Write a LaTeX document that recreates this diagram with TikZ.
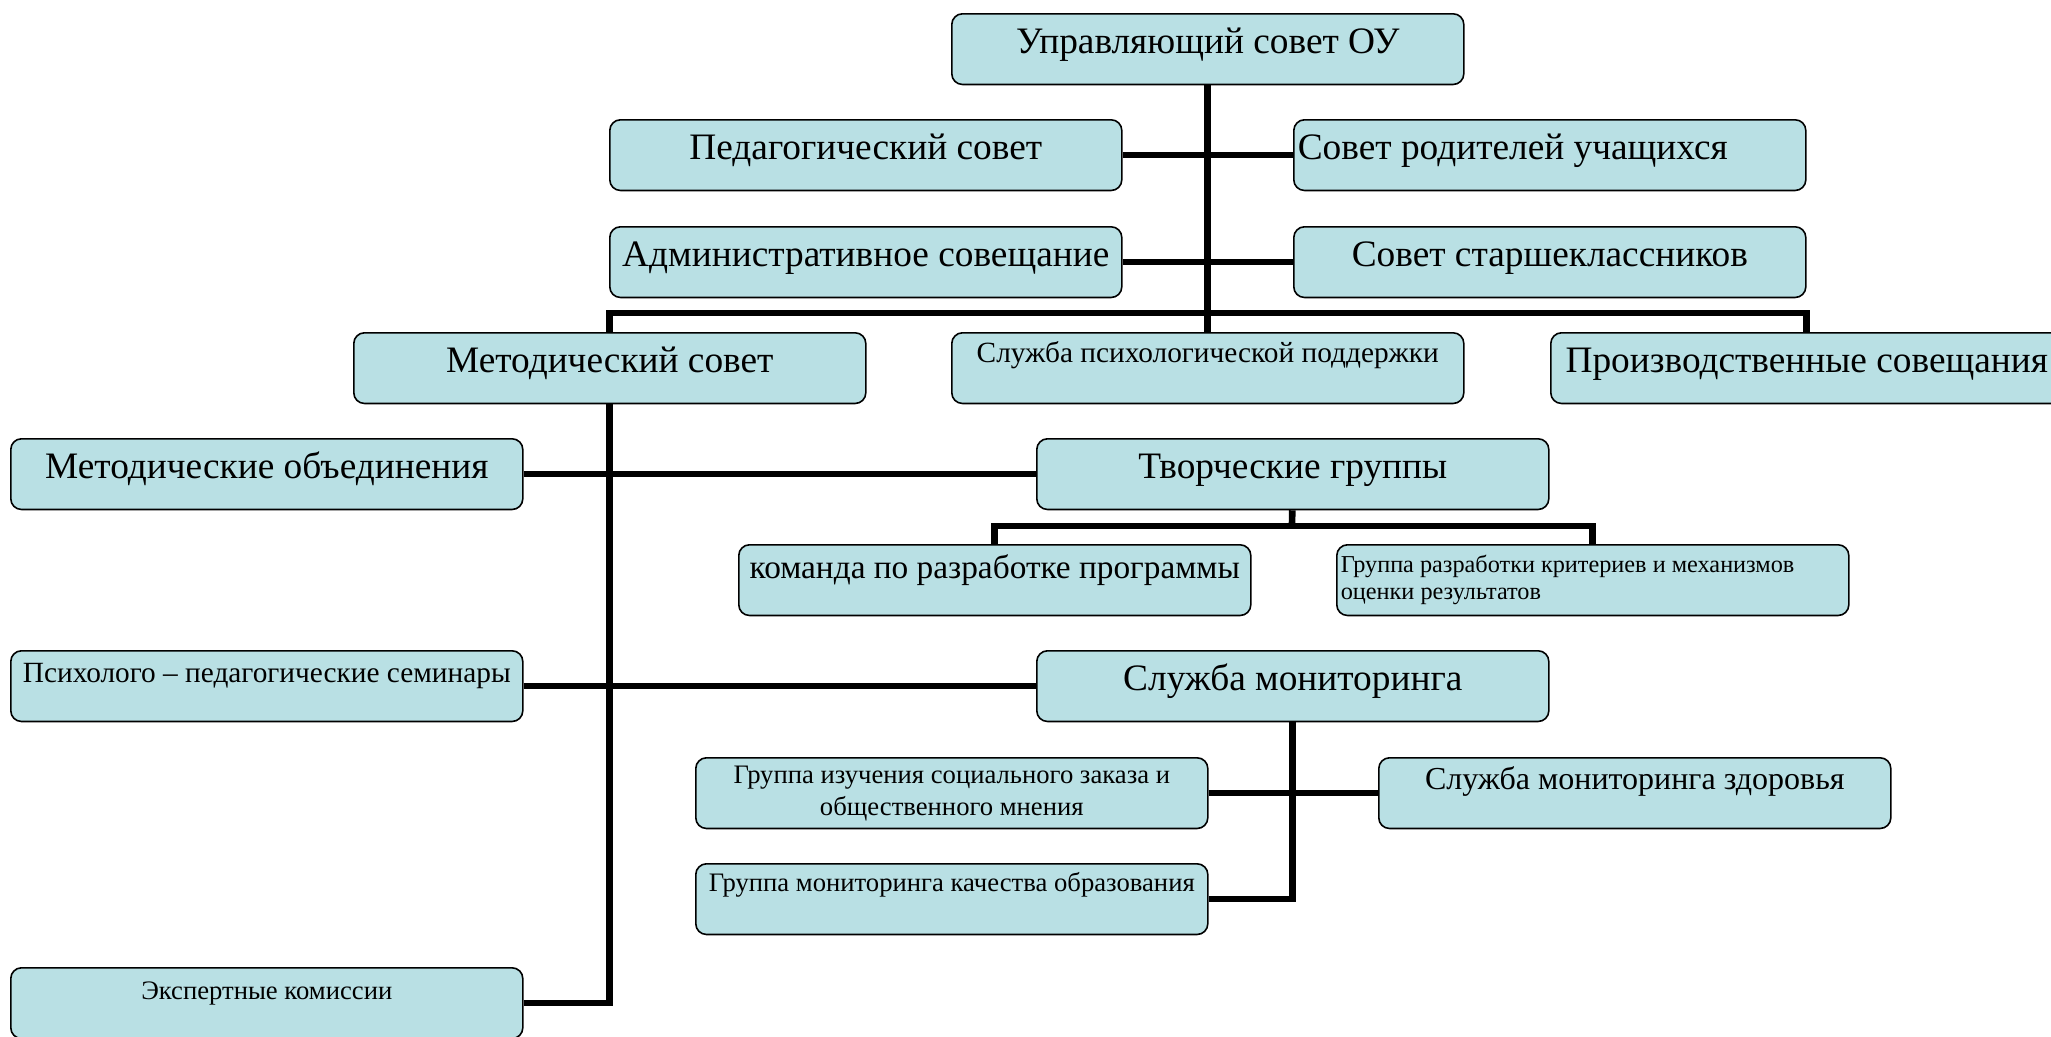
\documentclass[tikz,border=0pt]{standalone}
\usepackage{fontspec}
\setmainfont{Liberation Serif}
\definecolor{boxblue}{RGB}{185, 224, 228}

\begin{document}
\begin{tikzpicture}[x=0.375pt, y=-0.375pt,
    box/.style={draw, fill=boxblue, rounded corners=4pt, line width=0.6pt,
        minimum width=192pt, minimum height=26.5pt, inner sep=1pt, anchor=north west},
    big/.style={font=\fontsize{14}{16}\selectfont, text height=9pt, text depth=6pt},
    mid/.style={font=\fontsize{12}{14}\selectfont},
    small/.style={font=\fontsize{11}{13}\selectfont},
    tiny/.style={font=\fontsize{10}{12}\selectfont},
    link/.style={line width=2.5pt}]
  \clip (0,0) rectangle (2051,1036);

  % Top level
  \node[box, big] (uso) at (951,13) {Управляющий совет ОУ};
  \node[box, big] (pc) at (609,119) {Педагогический совет};
  \node[box, big, align=flush left, text width=189pt] (rp) at (1293,119) {Совет родителей учащихся};
  \node[box, big] (ad) at (609,226) {Административное совещание};
  \node[box, big] (ss) at (1293,226) {Совет старшеклассников};

  % Second level
  \node[box, big] (ms) at (353,332) {Методический совет};
  \node[box, small, text height=4pt, text depth=8pt] (spp) at (951,332) {Служба психологической поддержки};
  \node[box, big] (prs) at (1550,332) {Производственные совещания};

  % Methodical council
  \node[box, big] (mo) at (10,438) {Методические объединения};
  \node[box, big] (tg) at (1036,438) {Творческие группы};
  \node[box, font=\fontsize{12.5}{14}\selectfont, text height=6pt, text depth=7.5pt] (kp) at (738,544) {команда по разработке программы};
  \node[box, font=\fontsize{9.1}{10.3}\selectfont, align=flush left, text width=189pt] (gr) at (1336,544)
    {Группа разработки критериев и механизмов\\оценки результатов};
  \node[box, small, text height=5pt, text depth=7.6pt] (pps) at (10,650) {Психолого – педагогические семинары};
  \node[box, big] (sm) at (1036,650) {Служба мониторинга};
  \node[box, tiny, align=center] (gis) at (695,757)
    {Группа изучения социального заказа и\\общественного мнения};
  \node[box, mid, text height=5pt, text depth=8pt] (smz) at (1378,757) {Служба мониторинга здоровья};
  \node[box, tiny, text height=3pt, text depth=9pt] (gkp) at (695,863) {Группа мониторинга качества образования};
  \node[box, tiny, text height=5pt, text depth=8pt] (ek) at (10,967) {Экспертные комиссии};

  % Links
  \coordinate (bus) at (1207.5,313);
  \coordinate (tgbus) at (1292,526);
  \draw[link] (uso) -- (spp);
  \draw[link] (pc) -- (rp);
  \draw[link] (ad) -- (ss);
  \draw[link] (ms.north) |- (bus) -| (prs.north);
  \draw[link] (ms.south) |- (ek.east);
  \draw[link] (mo) -- (tg);
  \draw[link] (pps) -- (sm);
  \draw[link] (tg) -- (tgbus);
  \draw[link] (kp.north) |- (tgbus) -| (gr.north);
  \draw[link] (sm.south) |- (gkp.east);
  \draw[link] (gis) -- (smz);
\end{tikzpicture}
\end{document}
